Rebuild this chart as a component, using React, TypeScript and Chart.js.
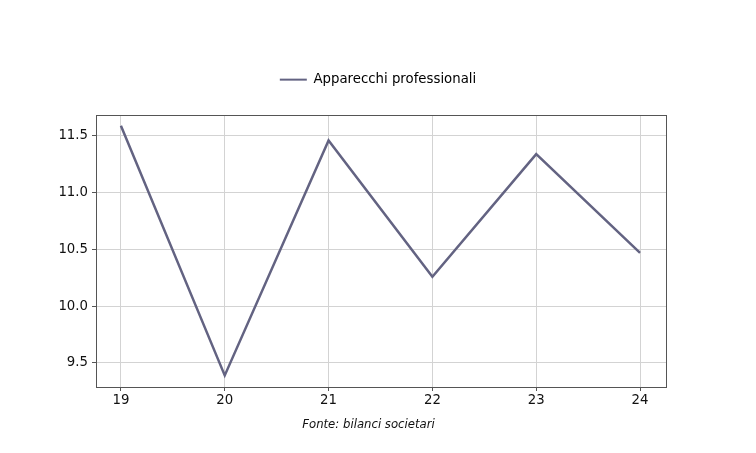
import React, { useEffect, useRef } from "react";
import { Chart, registerables } from "chart.js";

Chart.register(...registerables);

const years = [19, 20, 21, 22, 23, 24];
const seriesValues = [11.59, 9.39, 11.46, 10.26, 11.34, 10.47];
const yTicks = [9.5, 10.0, 10.5, 11.0, 11.5];
const seriesLabel = "Apparecchi professionali";
const caption = "Fonte: bilanci societari";

const FONT = "DejaVu Sans";

export default function App() {
  const ref = useRef<HTMLCanvasElement | null>(null);

  useEffect(() => {
    document.body.style.margin = "0";
    const canvas = ref.current;
    if (!canvas) return;

    const framePlugin = {
      id: "frame",
      beforeLayout(chart: any) {
        const lg = chart.legend;
        if (lg && !lg.__patched) {
          const orig = lg.fit;
          lg.fit = function () {
            orig.call(this);
            this.height = 52;
          };
          lg.__patched = true;
        }
      },
      afterDatasetsDraw(chart: any) {
        const { ctx, chartArea } = chart;
        ctx.save();
        ctx.strokeStyle = "#555555";
        ctx.lineWidth = 1;
        ctx.strokeRect(
          Math.round(chartArea.left) + 0.5,
          Math.round(chartArea.top) + 0.5,
          Math.round(chartArea.right - chartArea.left),
          Math.round(chartArea.bottom - chartArea.top)
        );
        ctx.restore();
      },
      afterDraw(chart: any) {
        const { ctx } = chart;
        ctx.save();
        ctx.font = `italic 11.7px "${FONT}"`;
        ctx.fillStyle = "#111111";
        ctx.textAlign = "center";
        ctx.textBaseline = "middle";
        ctx.fillText(caption, 368.5, 425);
        ctx.restore();
      },
    };

    const chart = new Chart(canvas, {
      type: "line",
      data: {
        datasets: [
          {
            label: seriesLabel,
            data: years.map((x, i) => ({ x, y: seriesValues[i] })),
            borderColor: "#636382",
            backgroundColor: "#636382",
            borderWidth: 2.5,
            pointRadius: 0,
            tension: 0,
          },
        ],
      },
      options: {
        animation: false,
        responsive: false,
        layout: { padding: { top: 63, right: 0, left: 0, bottom: 0 } },
        plugins: {
          legend: {
            display: true,
            position: "top",
            labels: {
              font: { family: FONT, size: 13.3 },
              color: "#111111",
              boxWidth: 27,
              boxHeight: 2,
              padding: 10,
              generateLabels: (chart: any) =>
                chart.data.datasets.map((ds: any, i: number) => ({
                  text: ds.label,
                  fillStyle: ds.borderColor,
                  strokeStyle: ds.borderColor,
                  lineWidth: 0,
                  datasetIndex: i,
                  hidden: false,
                })),
            },
          },
          tooltip: { enabled: false },
        },
        scales: {
          x: {
            type: "linear",
            min: 18.76,
            max: 24.25,
            afterBuildTicks: (s: any) => {
              s.ticks = years.map((v) => ({ value: v }));
            },
            afterFit: (s: any) => {
              s.height = 66;
            },
            ticks: {
              font: { family: FONT, size: 13.3 },
              color: "#111111",
              padding: 2,
              maxRotation: 0,
              autoSkip: false,
              callback: (v: any) => String(v),
            },
            grid: {
              color: "#d3d3d3",
              lineWidth: 1,
              tickLength: 4,
              tickColor: "#555555",
            },
            border: { display: false },
          },
          y: {
            type: "linear",
            min: 9.288,
            max: 11.685,
            afterBuildTicks: (s: any) => {
              s.ticks = yTicks.map((v) => ({ value: v }));
            },
            afterFit: (s: any) => {
              s.width = 96;
            },
            ticks: {
              font: { family: FONT, size: 13.3 },
              color: "#111111",
              padding: 4,
              autoSkip: false,
              callback: (v: any) => Number(v).toFixed(1),
            },
            grid: {
              color: "#d3d3d3",
              lineWidth: 1,
              tickLength: 4,
              tickColor: "#555555",
            },
            border: { display: false },
          },
          yRight: {
            type: "linear",
            position: "right",
            min: 0,
            max: 1,
            afterFit: (s: any) => {
              s.width = 90;
            },
            ticks: { display: false },
            grid: { display: false },
            border: { display: false },
          },
        },
      },
      plugins: [framePlugin],
    });

    return () => chart.destroy();
  }, []);

  return <canvas ref={ref} width={756} height={453} style={{ display: "block" }} />;
}
